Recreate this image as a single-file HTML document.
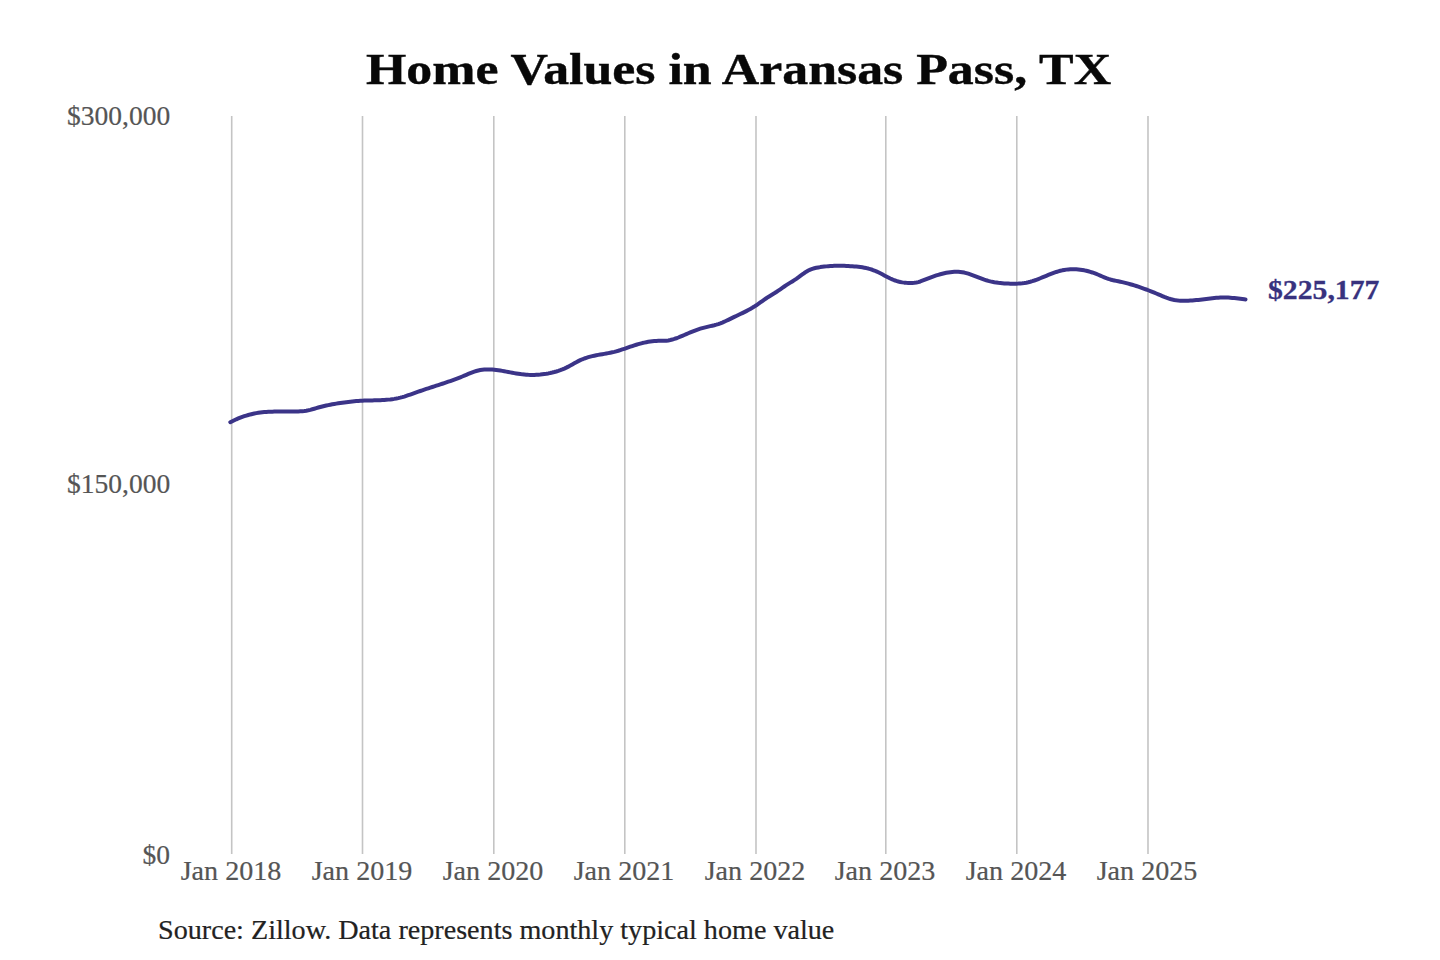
<!DOCTYPE html>
<html><head><meta charset="utf-8"><style>
html,body{margin:0;padding:0;background:#fff;width:1440px;height:960px;overflow:hidden;}
body{position:relative;font-family:"Liberation Serif",serif;}
.t{position:absolute;white-space:nowrap;line-height:1;transform-origin:0 0;}
#title{left:366px;top:47px;font-size:45px;font-weight:bold;color:#080808;-webkit-text-stroke:0.4px #080808;transform:scaleX(1.152);}
.yl{position:absolute;white-space:nowrap;line-height:1;font-size:27px;color:#555;-webkit-text-stroke:0.2px #555;right:1270px;transform-origin:100% 0;transform:scaleX(1.02);}
.xl{position:absolute;top:858px;width:0;height:0;}
.xl span{position:absolute;left:0;top:0;white-space:nowrap;line-height:1;font-size:27px;color:#555;-webkit-text-stroke:0.2px #555;transform:translateX(-50%) scaleX(1.04);}
#src{left:158px;top:917px;font-size:27px;color:#222;-webkit-text-stroke:0.2px #222;transform:scaleX(1.042);}
#val{left:1268px;top:277px;font-size:27px;font-weight:bold;color:#38327e;-webkit-text-stroke:0.3px #38327e;transform:scaleX(1.1);}
svg{position:absolute;left:0;top:0;}
</style></head><body>
<svg width="1440" height="960" viewBox="0 0 1440 960">
<g stroke="#c4c4c4" stroke-width="1.6">
<line x1="231.7" y1="116" x2="231.7" y2="854"/>
<line x1="362.5" y1="116" x2="362.5" y2="854"/>
<line x1="493.8" y1="116" x2="493.8" y2="854"/>
<line x1="624.8" y1="116" x2="624.8" y2="854"/>
<line x1="756.0" y1="116" x2="756.0" y2="854"/>
<line x1="885.8" y1="116" x2="885.8" y2="854"/>
<line x1="1016.8" y1="116" x2="1016.8" y2="854"/>
<line x1="1148.0" y1="116" x2="1148.0" y2="854"/>
</g>
<path d="M230.3,422.20 L232.3,421.18 L234.3,420.22 L236.3,419.30 L238.3,418.45 L240.3,417.65 L242.3,416.90 L244.3,416.21 L246.3,415.57 L248.3,414.98 L250.3,414.44 L252.3,413.96 L254.3,413.52 L256.3,413.14 L258.3,412.81 L260.3,412.52 L262.3,412.28 L264.3,412.09 L266.3,411.93 L268.3,411.80 L270.3,411.71 L272.3,411.64 L274.3,411.59 L276.3,411.57 L278.3,411.56 L280.3,411.56 L282.3,411.57 L284.3,411.58 L286.3,411.59 L288.3,411.60 L290.3,411.60 L292.3,411.59 L294.3,411.57 L296.3,411.53 L298.3,411.46 L300.3,411.35 L302.3,411.20 L304.3,410.98 L306.3,410.68 L308.3,410.30 L310.3,409.82 L312.3,409.29 L314.3,408.72 L316.3,408.13 L318.3,407.54 L320.3,406.98 L322.3,406.46 L324.3,405.98 L326.3,405.53 L328.3,405.11 L330.3,404.71 L332.3,404.33 L334.3,403.98 L336.3,403.64 L338.3,403.32 L340.3,403.01 L342.3,402.71 L344.3,402.43 L346.3,402.17 L348.3,401.92 L350.3,401.69 L352.3,401.48 L354.3,401.29 L356.3,401.11 L358.3,400.96 L360.3,400.82 L362.3,400.71 L364.3,400.62 L366.3,400.54 L368.3,400.48 L370.3,400.43 L372.3,400.38 L374.3,400.34 L376.3,400.28 L378.3,400.22 L380.3,400.15 L382.3,400.06 L384.3,399.94 L386.3,399.80 L388.3,399.63 L390.3,399.42 L392.3,399.16 L394.3,398.87 L396.3,398.52 L398.3,398.12 L400.3,397.66 L402.3,397.14 L404.3,396.55 L406.3,395.90 L408.3,395.22 L410.3,394.52 L412.3,393.80 L414.3,393.08 L416.3,392.38 L418.3,391.68 L420.3,390.99 L422.3,390.30 L424.3,389.63 L426.3,388.96 L428.3,388.29 L430.3,387.64 L432.3,386.99 L434.3,386.34 L436.3,385.69 L438.3,385.04 L440.3,384.39 L442.3,383.73 L444.3,383.07 L446.3,382.40 L448.3,381.72 L450.3,381.02 L452.3,380.31 L454.3,379.59 L456.3,378.84 L458.3,378.08 L460.3,377.29 L462.3,376.48 L464.3,375.64 L466.3,374.79 L468.3,373.94 L470.3,373.11 L472.3,372.33 L474.3,371.61 L476.3,370.98 L478.3,370.45 L480.3,370.03 L482.3,369.73 L484.3,369.53 L486.3,369.42 L488.3,369.39 L490.3,369.44 L492.3,369.56 L494.3,369.74 L496.3,369.97 L498.3,370.24 L500.3,370.55 L502.3,370.88 L504.3,371.24 L506.3,371.61 L508.3,371.99 L510.3,372.38 L512.3,372.76 L514.3,373.13 L516.3,373.48 L518.3,373.80 L520.3,374.10 L522.3,374.36 L524.3,374.57 L526.3,374.74 L528.3,374.86 L530.3,374.92 L532.3,374.94 L534.3,374.91 L536.3,374.83 L538.3,374.71 L540.3,374.54 L542.3,374.32 L544.3,374.06 L546.3,373.76 L548.3,373.41 L550.3,373.01 L552.3,372.56 L554.3,372.05 L556.3,371.49 L558.3,370.86 L560.3,370.17 L562.3,369.41 L564.3,368.57 L566.3,367.66 L568.3,366.66 L570.3,365.59 L572.3,364.46 L574.3,363.32 L576.3,362.20 L578.3,361.14 L580.3,360.16 L582.3,359.28 L584.3,358.50 L586.3,357.81 L588.3,357.19 L590.3,356.63 L592.3,356.14 L594.3,355.69 L596.3,355.28 L598.3,354.90 L600.3,354.54 L602.3,354.20 L604.3,353.85 L606.3,353.50 L608.3,353.13 L610.3,352.74 L612.3,352.31 L614.3,351.84 L616.3,351.31 L618.3,350.74 L620.3,350.12 L622.3,349.47 L624.3,348.79 L626.3,348.10 L628.3,347.41 L630.3,346.72 L632.3,346.03 L634.3,345.37 L636.3,344.74 L638.3,344.15 L640.3,343.59 L642.3,343.07 L644.3,342.60 L646.3,342.18 L648.3,341.81 L650.3,341.50 L652.3,341.24 L654.3,341.05 L656.3,340.93 L658.3,340.87 L660.3,340.86 L662.3,340.85 L664.3,340.81 L666.3,340.68 L668.3,340.43 L670.3,340.05 L672.3,339.55 L674.3,338.95 L676.3,338.26 L678.3,337.50 L680.3,336.68 L682.3,335.83 L684.3,334.96 L686.3,334.08 L688.3,333.22 L690.3,332.38 L692.3,331.57 L694.3,330.79 L696.3,330.05 L698.3,329.36 L700.3,328.72 L702.3,328.12 L704.3,327.58 L706.3,327.09 L708.3,326.62 L710.3,326.16 L712.3,325.70 L714.3,325.20 L716.3,324.65 L718.3,324.04 L720.3,323.33 L722.3,322.55 L724.3,321.70 L726.3,320.79 L728.3,319.84 L730.3,318.87 L732.3,317.89 L734.3,316.91 L736.3,315.95 L738.3,315.00 L740.3,314.05 L742.3,313.09 L744.3,312.11 L746.3,311.10 L748.3,310.05 L750.3,308.95 L752.3,307.80 L754.3,306.58 L756.3,305.28 L758.3,303.90 L760.3,302.48 L762.3,301.05 L764.3,299.63 L766.3,298.25 L768.3,296.94 L770.3,295.71 L772.3,294.51 L774.3,293.30 L776.3,292.02 L778.3,290.67 L780.3,289.29 L782.3,287.90 L784.3,286.52 L786.3,285.19 L788.3,283.91 L790.3,282.67 L792.3,281.44 L794.3,280.17 L796.3,278.85 L798.3,277.44 L800.3,275.95 L802.3,274.46 L804.3,273.02 L806.3,271.69 L808.3,270.53 L810.3,269.58 L812.3,268.83 L814.3,268.25 L816.3,267.79 L818.3,267.42 L820.3,267.10 L822.3,266.83 L824.3,266.59 L826.3,266.38 L828.3,266.20 L830.3,266.06 L832.3,265.95 L834.3,265.87 L836.3,265.81 L838.3,265.79 L840.3,265.78 L842.3,265.81 L844.3,265.86 L846.3,265.93 L848.3,266.02 L850.3,266.13 L852.3,266.26 L854.3,266.41 L856.3,266.58 L858.3,266.79 L860.3,267.03 L862.3,267.32 L864.3,267.67 L866.3,268.08 L868.3,268.56 L870.3,269.12 L872.3,269.77 L874.3,270.51 L876.3,271.36 L878.3,272.29 L880.3,273.30 L882.3,274.34 L884.3,275.41 L886.3,276.48 L888.3,277.51 L890.3,278.50 L892.3,279.42 L894.3,280.24 L896.3,280.94 L898.3,281.52 L900.3,281.99 L902.3,282.36 L904.3,282.64 L906.3,282.85 L908.3,282.98 L910.3,283.04 L912.3,283.00 L914.3,282.85 L916.3,282.55 L918.3,282.08 L920.3,281.47 L922.3,280.74 L924.3,279.96 L926.3,279.15 L928.3,278.36 L930.3,277.59 L932.3,276.85 L934.3,276.14 L936.3,275.47 L938.3,274.84 L940.3,274.25 L942.3,273.72 L944.3,273.24 L946.3,272.81 L948.3,272.45 L950.3,272.15 L952.3,271.92 L954.3,271.77 L956.3,271.71 L958.3,271.75 L960.3,271.90 L962.3,272.18 L964.3,272.58 L966.3,273.09 L968.3,273.68 L970.3,274.34 L972.3,275.07 L974.3,275.83 L976.3,276.61 L978.3,277.40 L980.3,278.18 L982.3,278.93 L984.3,279.63 L986.3,280.28 L988.3,280.86 L990.3,281.37 L992.3,281.82 L994.3,282.22 L996.3,282.55 L998.3,282.84 L1000.3,283.07 L1002.3,283.26 L1004.3,283.41 L1006.3,283.52 L1008.3,283.60 L1010.3,283.64 L1012.3,283.66 L1014.3,283.66 L1016.3,283.63 L1018.3,283.57 L1020.3,283.46 L1022.3,283.29 L1024.3,283.04 L1026.3,282.70 L1028.3,282.27 L1030.3,281.75 L1032.3,281.16 L1034.3,280.50 L1036.3,279.79 L1038.3,279.04 L1040.3,278.25 L1042.3,277.44 L1044.3,276.61 L1046.3,275.78 L1048.3,274.96 L1050.3,274.16 L1052.3,273.39 L1054.3,272.66 L1056.3,271.97 L1058.3,271.35 L1060.3,270.80 L1062.3,270.32 L1064.3,269.93 L1066.3,269.62 L1068.3,269.40 L1070.3,269.25 L1072.3,269.18 L1074.3,269.19 L1076.3,269.28 L1078.3,269.43 L1080.3,269.66 L1082.3,269.97 L1084.3,270.34 L1086.3,270.77 L1088.3,271.28 L1090.3,271.85 L1092.3,272.48 L1094.3,273.18 L1096.3,273.94 L1098.3,274.75 L1100.3,275.61 L1102.3,276.47 L1104.3,277.31 L1106.3,278.11 L1108.3,278.84 L1110.3,279.46 L1112.3,280.00 L1114.3,280.47 L1116.3,280.90 L1118.3,281.31 L1120.3,281.73 L1122.3,282.17 L1124.3,282.64 L1126.3,283.14 L1128.3,283.67 L1130.3,284.22 L1132.3,284.79 L1134.3,285.40 L1136.3,286.02 L1138.3,286.67 L1140.3,287.34 L1142.3,288.04 L1144.3,288.76 L1146.3,289.50 L1148.3,290.25 L1150.3,291.03 L1152.3,291.83 L1154.3,292.65 L1156.3,293.48 L1158.3,294.34 L1160.3,295.20 L1162.3,296.06 L1164.3,296.90 L1166.3,297.68 L1168.3,298.39 L1170.3,299.01 L1172.3,299.53 L1174.3,299.94 L1176.3,300.27 L1178.3,300.51 L1180.3,300.67 L1182.3,300.77 L1184.3,300.80 L1186.3,300.79 L1188.3,300.73 L1190.3,300.62 L1192.3,300.48 L1194.3,300.31 L1196.3,300.11 L1198.3,299.89 L1200.3,299.65 L1202.3,299.41 L1204.3,299.16 L1206.3,298.90 L1208.3,298.66 L1210.3,298.42 L1212.3,298.20 L1214.3,298.00 L1216.3,297.83 L1218.3,297.69 L1220.3,297.58 L1222.3,297.51 L1224.3,297.50 L1226.3,297.53 L1228.3,297.61 L1230.3,297.73 L1232.3,297.89 L1234.3,298.07 L1236.3,298.28 L1238.3,298.51 L1240.3,298.75 L1242.3,299.00 L1244.3,299.25 L1245.5,299.40" fill="none" stroke="#3b3488" stroke-width="4.0" stroke-linecap="round" stroke-linejoin="round"/>
</svg>
<div id="title" class="t">Home Values in Aransas Pass, TX</div>
<div class="yl" style="top:103px">$300,000</div>
<div class="yl" style="top:471px">$150,000</div>
<div class="yl" style="top:842px">$0</div>
<div class="xl" style="left:230.7px"><span>Jan 2018</span></div>
<div class="xl" style="left:361.5px"><span>Jan 2019</span></div>
<div class="xl" style="left:492.8px"><span>Jan 2020</span></div>
<div class="xl" style="left:623.8px"><span>Jan 2021</span></div>
<div class="xl" style="left:755.0px"><span>Jan 2022</span></div>
<div class="xl" style="left:884.8px"><span>Jan 2023</span></div>
<div class="xl" style="left:1015.8px"><span>Jan 2024</span></div>
<div class="xl" style="left:1147.0px"><span>Jan 2025</span></div>
<div id="src" class="t">Source: Zillow. Data represents monthly typical home value</div>
<div id="val" class="t">$225,177</div>
</body></html>
